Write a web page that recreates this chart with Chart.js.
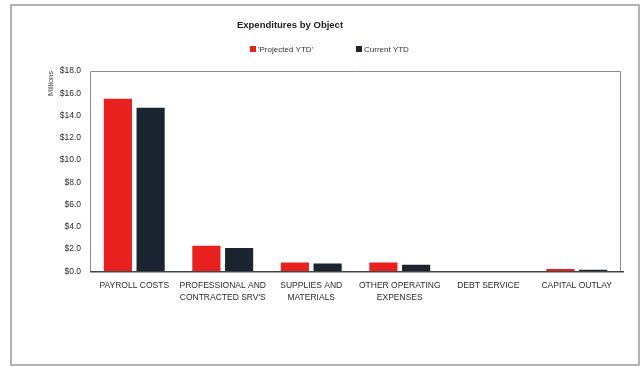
<!DOCTYPE html>
<html>
<head>
<meta charset="utf-8">
<script src="https://cdn.jsdelivr.net/npm/chart.js@4/dist/chart.umd.min.js"></script>
<style>
  html, body { margin: 0; padding: 0; background: #fff; }
  #wrap { position: relative; width: 641px; height: 367px; }
</style>
</head>
<body>
<div id="wrap"><canvas id="chartObject" width="641" height="367"></canvas></div>
<script>
var categorias = [
    ['PAYROLL COSTS'],
    ['PROFESSIONAL AND', "CONTRACTED SRV'S"],
    ['SUPPLIES AND', 'MATERIALS'],
    ['OTHER OPERATING', 'EXPENSES'],
    ['DEBT SERVICE'],
    ['CAPITAL OUTLAY']
];
var projetado = [15.5, 2.3, 0.8, 0.8, 0, 0.2];   // 'Projected YTD', millions
var atual = [14.7, 2.1, 0.7, 0.6, 0, 0.15];       // Current YTD, millions
var serieNomes = ["'Projected YTD'", 'Current YTD'];
var serieCores = ['#e8201e', '#1b2431'];

var fonte = "'Liberation Sans Narrow', 'Liberation Sans', Arial, sans-serif";
Chart.defaults.font.family = fonte;
Chart.defaults.color = '#333';

// outer frame, plot box, title and legend
var moldura = {
    id: 'moldura',
    beforeDraw: function(chart) {
        var ctx = chart.ctx;
        ctx.save();
        ctx.fillStyle = '#fff';
        ctx.fillRect(0, 0, chart.width, chart.height);
        ctx.strokeStyle = '#9a9a9a';
        ctx.lineWidth = 1.5;
        ctx.strokeRect(11, 5, 628, 360);
        ctx.restore();
    },
    afterDatasetsDraw: function(chart) {
        var ctx = chart.ctx, a = chart.chartArea;
        ctx.save();
        ctx.strokeStyle = '#8c8c8c';
        ctx.lineWidth = 1;
        ctx.beginPath();
        ctx.moveTo(a.left + 0.5, a.bottom);
        ctx.lineTo(a.left + 0.5, a.top + 0.5);
        ctx.lineTo(a.right - 0.5, a.top + 0.5);
        ctx.lineTo(a.right - 0.5, a.bottom);
        ctx.stroke();
        ctx.strokeStyle = '#444';
        ctx.lineWidth = 1.5;
        ctx.beginPath();
        ctx.moveTo(a.left, a.bottom + 0.5);
        ctx.lineTo(a.right + 3, a.bottom + 0.5);
        ctx.stroke();

        ctx.fillStyle = '#222';
        ctx.font = 'bold 9.5px ' + fonte;
        ctx.textAlign = 'center';
        ctx.textBaseline = 'middle';
        ctx.fillText('Expenditures by Object', 290, 25);

        ctx.font = '8px ' + fonte;
        ctx.textAlign = 'left';
        var xs = [250, 356];
        chart.data.datasets.forEach(function(ds, i) {
            ctx.fillStyle = ds.backgroundColor;
            ctx.fillRect(xs[i], 46, 6, 6);
            ctx.fillStyle = '#333';
            ctx.fillText(ds.label, xs[i] + 8, 49.5);
        });
        ctx.restore();
    }
};

var ctx = document.getElementById('chartObject');
var graficoObjeto = new Chart(ctx, {
    type: 'bar',
    data: {
        labels: categorias,
        datasets: [{
            label: serieNomes[0],
            data: projetado,
            backgroundColor: serieCores[0]
        }, {
            label: serieNomes[1],
            data: atual,
            backgroundColor: serieCores[1]
        }]
    },
    options: {
        responsive: false,
        animation: false,
        layout: { padding: { top: 71, right: 20, bottom: 55, left: 40 } },
        categoryPercentage: 0.74,
        barPercentage: 0.86,
        plugins: {
            legend: { display: false },
            tooltip: { enabled: false }
        },
        scales: {
            x: {
                grid: { display: false, drawTicks: false },
                border: { display: false },
                ticks: {
                    padding: 8,
                    maxRotation: 0,
                    autoSkip: false,
                    color: '#2a2a2a',
                    font: { size: 8.5, lineHeight: 1.45 }
                }
            },
            y: {
                min: 0,
                max: 18,
                grid: { display: false, drawTicks: false },
                border: { display: false },
                afterFit: function(scale) { scale.width = 50; },
                title: {
                    display: true,
                    text: 'Millions',
                    align: 'end',
                    color: '#444',
                    font: { size: 7.5 },
                    padding: { top: 6, bottom: 0 }
                },
                ticks: {
                    stepSize: 2,
                    padding: 9,
                    color: '#2a2a2a',
                    font: { size: 8.5 },
                    callback: function(v) { return '$' + v.toFixed(1); }
                }
            }
        }
    },
    plugins: [moldura]
});
</script>
</body>
</html>
